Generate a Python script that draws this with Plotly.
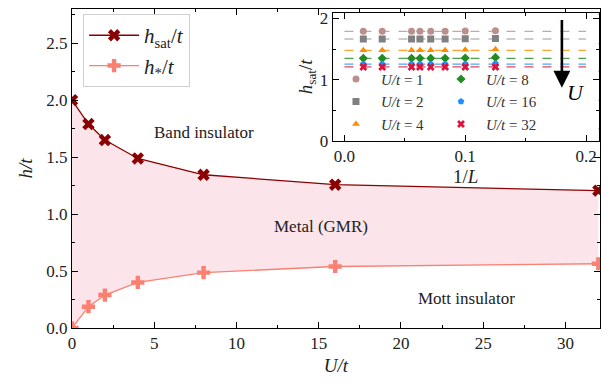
import plotly.graph_objects as go

# ---- main panel data ----
U_vals = [0, 1, 2, 4, 8, 16, 32]
h_sat = [2.0, 1.79, 1.65, 1.488, 1.345, 1.258, 1.206]
h_star = [0.0, 0.187, 0.289, 0.40, 0.486, 0.54, 0.564]

# ---- inset data ----
inv_L = [1/64, 1/32, 1/18, 1/16, 1/14, 1/12, 1/10, 1/8]
inset_U = [1, 2, 4, 8, 16, 32]
inset_h = {
    1: [1.79, 1.79, 1.79, 1.79, 1.79, 1.79, 1.795, 1.80],
    2: [1.665, 1.665, 1.665, 1.665, 1.665, 1.665, 1.67, 1.675],
    4: [1.48, 1.48, 1.48, 1.48, 1.48, 1.48, 1.49, 1.50],
    8: [1.35, 1.35, 1.35, 1.35, 1.35, 1.35, 1.355, 1.365],
    16: [1.255, 1.255, 1.255, 1.255, 1.255, 1.255, 1.258, 1.265],
    32: [1.21, 1.21, 1.21, 1.21, 1.21, 1.21, 1.21, 1.21],
}
inset_fit = {1: 1.79, 2: 1.665, 4: 1.48, 8: 1.35, 16: 1.255, 32: 1.21}
inset_colors = {1: "#bc8f8f", 2: "#808080", 4: "#ff8c00", 8: "#228b22", 16: "#1e90ff", 32: "#dc143c"}
inset_symbols = {1: "circle", 2: "square", 4: "triangle-up", 8: "diamond", 16: "pentagon", 32: "x"}
legend_col = {1: "legend2", 2: "legend2", 4: "legend2", 8: "legend3", 16: "legend3", 32: "legend3"}

FONT = "Liberation Serif"

fig = go.Figure()

# fill between curves
fig.add_trace(go.Scatter(x=U_vals, y=h_sat, mode="lines", line=dict(width=0, color="rgba(0,0,0,0)"),
                         showlegend=False, hoverinfo="skip"))
fig.add_trace(go.Scatter(x=U_vals, y=h_star, mode="lines", line=dict(width=0, color="rgba(0,0,0,0)"),
                         fill="tonexty", fillcolor="rgba(220,20,60,0.11)", showlegend=False, hoverinfo="skip"))

fig.add_trace(go.Scatter(x=U_vals, y=h_sat, mode="lines+markers", name="<i>h</i><sub>sat</sub>/<i>t</i>",
                         line=dict(color="#8b0000", width=1.3),
                         marker=dict(symbol="x", size=11, color="#8b0000"), legend="legend"))
fig.add_trace(go.Scatter(x=U_vals, y=h_star, mode="lines+markers", name="<i>h</i><sub>*</sub>/<i>t</i>",
                         line=dict(color="#fa8072", width=1.3),
                         marker=dict(symbol="cross", size=11, color="#fa8072"), legend="legend"))

# inset dashed fits
for u in inset_U:
    fig.add_trace(go.Scatter(x=[0, 0.2], y=[inset_fit[u], inset_fit[u]], mode="lines",
                             line=dict(color=inset_colors[u], width=1.2, dash="dash"), opacity=0.8,
                             xaxis="x2", yaxis="y2", showlegend=False, hoverinfo="skip"))
for u in inset_U:
    fig.add_trace(go.Scatter(x=inv_L, y=inset_h[u], mode="markers", name=f"<i>U/t</i> = {u}",
                             marker=dict(symbol=inset_symbols[u], size=7, color=inset_colors[u]),
                             xaxis="x2", yaxis="y2", legend=legend_col[u]))

axis_common = dict(showline=True, linecolor="black", linewidth=1, mirror="allticks",
                   ticks="inside", ticklen=6, tickcolor="black", showgrid=False, zeroline=False,
                   tickfont=dict(family=FONT, size=17, color="#222"))

inset_leg = dict(yanchor="top", xanchor="left", bgcolor="rgba(0,0,0,0)", borderwidth=0,
                 font=dict(family=FONT, size=15, color="#333"), itemwidth=40,
                 tracegroupgap=0, traceorder="normal")

fig.update_layout(
    width=613, height=386,
    margin=dict(l=72, r=13, t=6, b=58),
    plot_bgcolor="white", paper_bgcolor="white",
    font=dict(family=FONT, color="#222"),
    xaxis=dict(range=[0, 32.1], tickvals=[0, 5, 10, 15, 20, 25, 30], domain=[0, 1],
               minor=dict(dtick=2.5, tick0=0, ticks="inside", ticklen=3, tickcolor="black"),
               title=dict(text="<i>U/t</i>", font=dict(family=FONT, size=19), standoff=6),
               **axis_common),
    yaxis=dict(range=[0, 2.8], tickvals=[0, 0.5, 1.0, 1.5, 2.0, 2.5],
               ticktext=["0.0", "0.5", "1.0", "1.5", "2.0", "2.5"], domain=[0, 1],
               minor=dict(dtick=0.25, tick0=0, ticks="inside", ticklen=3, tickcolor="black"),
               title=dict(text="<i>h/t</i>", font=dict(family=FONT, size=19), standoff=8),
               **axis_common),
    xaxis2=dict(range=[-0.0097, 0.2105], domain=[0.4938, 0.9976], anchor="y2",
                tickvals=[0, 0.1, 0.2], ticktext=["0.0", "0.1", "0.2"],
                minor=dict(dtick=0.05, tick0=0, ticks="inside", ticklen=3, tickcolor="black"),
                title=dict(text="1/<i>L</i>", font=dict(family=FONT, size=19), standoff=2),
                **axis_common),
    yaxis2=dict(range=[0, 2.097], domain=[0.5859, 0.9889], anchor="x2",
                tickvals=[0, 1, 2],
                minor=dict(dtick=0.5, tick0=0, ticks="inside", ticklen=3, tickcolor="black"),
                title=dict(text="<i>h</i><sub>sat</sub>/<i>t</i>", font=dict(family=FONT, size=19), standoff=2),
                **axis_common),
    legend=dict(x=0.021, y=0.984, xanchor="left", yanchor="top", bgcolor="rgba(255,255,255,0.9)",
                bordercolor="#d0d0d0", borderwidth=1, font=dict(family=FONT, size=21),
                tracegroupgap=0, itemwidth=50, traceorder="normal"),
    legend2=dict(x=0.4905, y=0.8315, **inset_leg),
    legend3=dict(x=0.6894, y=0.8315, **inset_leg),
    showlegend=True,
)

# inset legend frame
fig.add_shape(type="rect", xref="paper", yref="paper", x0=0.5076, x1=0.8864, y0=0.6054, y1=0.7976,
              line=dict(color="#d8d8d8", width=1), fillcolor="rgba(255,255,255,0.85)", layer="below")

fig.add_annotation(x=0.18, y=0.87, ax=0.18, ay=2.0, xref="x2", yref="y2", axref="x2", ayref="y2",
                   showarrow=True, arrowhead=2, arrowsize=1.3, arrowwidth=2.6, arrowcolor="black", text="")
fig.add_annotation(x=0.192, y=0.8, xref="x2", yref="y2", text="<i>U</i>", showarrow=False,
                   font=dict(family=FONT, size=22, color="black"))

fig.add_annotation(x=8.05, y=1.72, text="Band insulator", showarrow=False,
                   font=dict(family=FONT, size=17, color="#222"))
fig.add_annotation(x=15.15, y=0.887, text="Metal (GMR)", showarrow=False,
                   font=dict(family=FONT, size=17, color="#222"))
fig.add_annotation(x=24.0, y=0.26, text="Mott insulator", showarrow=False,
                   font=dict(family=FONT, size=17, color="#222"))

fig.write_html("out.html")
